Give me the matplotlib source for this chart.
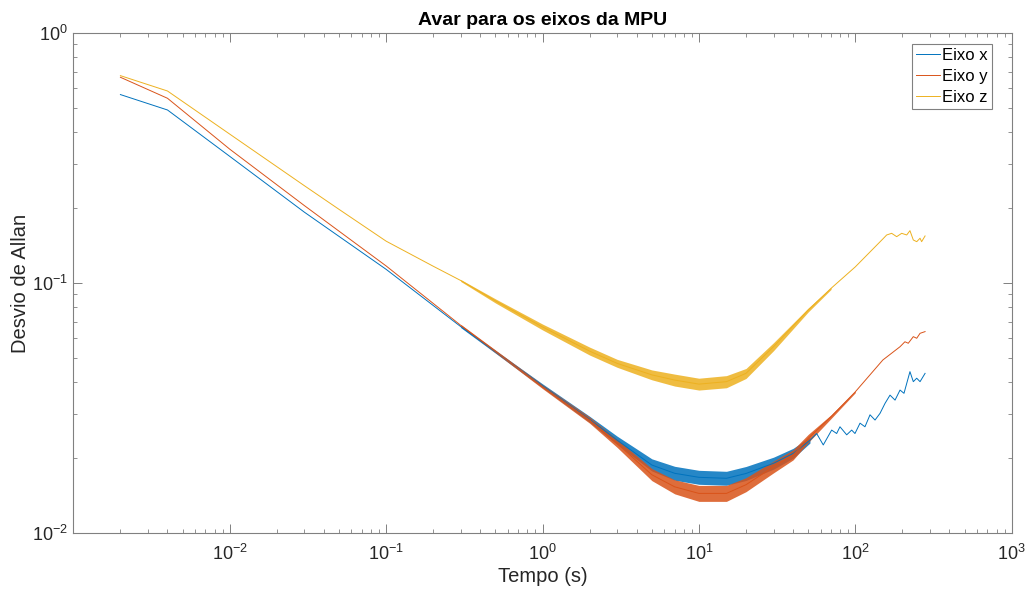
import matplotlib
matplotlib.use("Agg")
import matplotlib.pyplot as plt
from matplotlib.ticker import LogLocator, NullFormatter, FixedLocator

plt.rcParams['font.family'] = ['Liberation Sans', 'DejaVu Sans']
plt.rcParams['mathtext.fontset'] = 'custom'
plt.rcParams['mathtext.rm'] = 'Liberation Sans'
plt.rcParams['mathtext.it'] = 'Liberation Sans'

# Allan deviation (tau in s)
# Eixo x
x_tau = [0.002, 0.004, 0.01, 0.03, 0.1, 0.3, 1, 2, 3, 5, 7, 10, 15, 20, 30, 40,
         51.3, 56.6, 62.4, 70.6, 76.0, 79.8, 88.1, 94.8, 99.5, 107.2, 115.3, 124.2,
         133.7, 143.9, 154.9, 166.7, 179.5, 193.2, 204.8, 223.6, 234.9, 247.0, 259.4, 279.3]
x_adev = [0.567, 0.492, 0.321, 0.192, 0.1134, 0.0669, 0.0388, 0.0285, 0.0235, 0.0187,
          0.01733, 0.0167, 0.01655, 0.0173, 0.019, 0.0208,
          0.0235, 0.0250, 0.0225, 0.0258, 0.0250, 0.0266, 0.0247, 0.0258, 0.0250, 0.0275,
          0.0266, 0.0297, 0.0283, 0.0301, 0.0330, 0.0356, 0.0340, 0.0373, 0.0362, 0.0442,
          0.0403, 0.0416, 0.0403, 0.0435]
# noise envelope of the dense part
x_band_tau = [0.3, 1, 2, 3, 5, 7, 10, 15, 20, 30, 40, 51.3]
x_band_lo = [0.0663, 0.0381, 0.0277, 0.0226, 0.0177, 0.01625, 0.01566, 0.01552, 0.01622, 0.0180, 0.0199, 0.0229]
x_band_hi = [0.0675, 0.0395, 0.0293, 0.0244, 0.0198, 0.01848, 0.01781, 0.01765, 0.01845, 0.0201, 0.0218, 0.0242]

# Eixo y
y_tau = [0.002, 0.004, 0.01, 0.03, 0.1, 0.3, 1, 2, 3, 5, 7, 10, 15, 20, 30, 40, 50, 70,
         100, 150, 193.2, 207.6, 218.1, 234.9, 247.0, 259.4, 279.3]
y_adev = [0.665, 0.548, 0.343, 0.204, 0.117, 0.0677, 0.0385, 0.0283, 0.0228, 0.0171,
          0.0153, 0.0144, 0.0144, 0.0156, 0.0184, 0.0205, 0.0239, 0.0292,
          0.0367, 0.0492, 0.0556, 0.0582, 0.0574, 0.061, 0.0601, 0.0629, 0.0639]
y_band_tau = [0.3, 1, 2, 3, 5, 7, 10, 15, 20, 30, 40, 50, 70, 100]
y_band_lo = [0.0671, 0.0378, 0.0275, 0.0220, 0.0162, 0.01434, 0.01338, 0.01338, 0.01463, 0.0174, 0.0196, 0.0230, 0.0287, 0.0364]
y_band_hi = [0.0683, 0.0392, 0.0291, 0.0237, 0.0181, 0.01632, 0.0155, 0.0155, 0.01664, 0.0194, 0.0215, 0.0248, 0.0297, 0.0370]

# Eixo z
z_tau = [0.002, 0.004, 0.01, 0.03, 0.05, 0.1, 0.2, 0.3, 0.5, 1, 2, 3, 5, 7, 10, 15, 20, 30, 50, 70,
         100, 150, 158.7, 170.8, 183.9, 198.0, 213.1, 223.6, 234.9, 247.0, 259.4, 265.5, 279.3]
z_adev = [0.675, 0.586, 0.394, 0.245, 0.197, 0.147, 0.1167, 0.1023, 0.0848, 0.0667, 0.0534, 0.0477, 0.0429,
          0.0409, 0.0394, 0.0403, 0.0435, 0.0556, 0.078, 0.0952,
          0.116, 0.150, 0.1556, 0.158, 0.1532, 0.158, 0.1556, 0.1619, 0.1486, 0.1463,
          0.151, 0.1463, 0.1542]
z_band_tau = [0.3, 0.5, 1, 2, 3, 5, 7, 10, 15, 20, 30, 50, 70]
z_band_lo = [0.1014, 0.0832, 0.0649, 0.0515, 0.0460, 0.0410, 0.0387, 0.0373, 0.0381, 0.0415, 0.0536, 0.0766, 0.0943]
z_band_hi = [0.1032, 0.0864, 0.0685, 0.0554, 0.0495, 0.0449, 0.0432, 0.0416, 0.0426, 0.0455, 0.0577, 0.0794, 0.0961]

c_x = '#0072BD'
c_y = '#D95319'
c_z = '#EDB120'

fig = plt.figure(figsize=(10.27, 5.94), dpi=100)
ax = fig.add_axes([0.0714, 0.1027, 0.9137, 0.8418])

ax.fill_between(x_band_tau, x_band_lo, x_band_hi, color=c_x, lw=0, alpha=0.85)
ax.plot(x_tau, x_adev, color=c_x, lw=0.7, label='Eixo x')
ax.fill_between(y_band_tau, y_band_lo, y_band_hi, color=c_y, lw=0, alpha=0.85)
ax.plot(y_tau, y_adev, color=c_y, lw=0.7, label='Eixo y')
ax.fill_between(z_band_tau, z_band_lo, z_band_hi, color=c_z, lw=0, alpha=0.85)
ax.plot(z_tau, z_adev, color=c_z, lw=0.7, label='Eixo z')

ax.set_xscale('log')
ax.set_yscale('log')
ax.set_xlim(1e-3, 1e3)
ax.set_ylim(1e-2, 1)

ax.xaxis.set_major_locator(FixedLocator([1e-2, 1e-1, 1, 1e1, 1e2, 1e3]))
ax.set_xticklabels([r'$10^{-2}$', r'$10^{-1}$', r'$10^{0}$', r'$10^{1}$', r'$10^{2}$', r'$10^{3}$'])
ax.xaxis.set_minor_locator(LogLocator(base=10, subs=range(2, 10), numticks=20))
ax.xaxis.set_minor_formatter(NullFormatter())
ax.yaxis.set_major_locator(FixedLocator([1e-2, 1e-1, 1]))
ax.set_yticklabels([r'$10^{-2}$', r'$10^{-1}$', r'$10^{0}$'])
ax.yaxis.set_minor_locator(LogLocator(base=10, subs=range(2, 10), numticks=20))
ax.yaxis.set_minor_formatter(NullFormatter())

ax.tick_params(which='both', direction='in', top=True, right=True, color='#808080',
               labelcolor='#262626', labelsize=13)
ax.tick_params(which='major', length=6.5, width=0.7)
ax.tick_params(which='minor', length=3, width=0.6)
ax.tick_params(axis='x', pad=8)
ax.tick_params(axis='y', pad=4)
for s in ax.spines.values():
    s.set_color('#808080')
    s.set_linewidth(0.8)

ax.set_xlabel('Tempo (s)', fontsize=14.5, color='#262626', labelpad=2)
ax.set_ylabel('Desvio de Allan', fontsize=14.5, color='#262626', labelpad=1)
ax.set_title('Avar para os eixos da MPU', fontsize=14, fontweight='bold', color='black', pad=6)

leg = ax.legend(loc='upper right', bbox_to_anchor=(0.979, 0.978), borderaxespad=0,
                fontsize=12, fancybox=False, edgecolor='#808080', framealpha=1,
                handlelength=1.4, handletextpad=0.15, borderpad=0.25, labelspacing=0.35)
leg.get_frame().set_linewidth(0.8)

fig.savefig('out.png', dpi=100)
